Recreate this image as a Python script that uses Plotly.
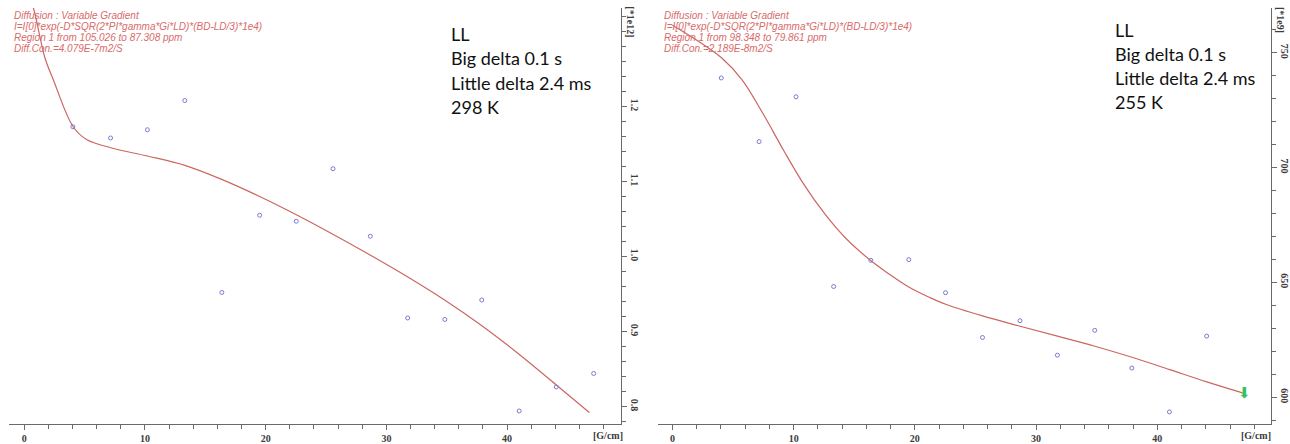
import plotly.graph_objects as go

# Gradient strengths (G/cm) used for both temperatures
gradient = [4.03, 7.15, 10.2, 13.3, 16.37, 19.5, 22.53, 25.58, 28.67, 31.76, 34.84, 37.9, 41.0, 44.07, 47.17]

# Integrated intensities, 298 K (x1e12) and 255 K (x1e9)
intensity_298 = [1.173, 1.158, 1.169, 1.208, 0.952, 1.055, 1.047, 1.117, 1.027, 0.918, 0.916, 0.942, 0.794, 0.826, 0.844]
intensity_255 = [739.0, 711.3, 730.8, 648.2, 659.6, 659.9, 645.5, 626.0, 633.3, 618.3, 629.1, 612.7, 593.6, 626.6, 601.1]

# Fitted decay curves
fit_g_298 = [0.5, 0.88, 1.71, 2.4, 4.05, 5.16, 7.17, 10.2, 13.3, 16.4, 19.5, 22.5, 25.3, 28.65, 31.74, 34.82, 37.88, 40.96, 44.05, 46.81]
fit_i_298 = [1.345, 1.324, 1.265, 1.236, 1.173, 1.156, 1.145, 1.134, 1.1215, 1.1025, 1.080, 1.056, 1.032, 1.002, 0.973, 0.942, 0.908, 0.870, 0.829, 0.792]
fit_g_255 = [0.0, 1.7, 4.05, 5.76, 7.48, 9.19, 10.91, 12.62, 14.34, 16.33, 17.77, 19.49, 21.2, 22.54, 25.59, 28.68, 31.77, 34.85, 37.91, 41.03, 44.08, 47.1]
fit_i_255 = [762.0, 756.5, 747.8, 738.1, 723.4, 707.3, 692.1, 679.5, 669.0, 659.6, 654.0, 648.0, 643.5, 640.5, 635.4, 630.9, 626.6, 622.2, 617.4, 612.0, 606.7, 601.8]

x_ticks = [0, 10, 20, 30, 40]
ticks_298 = [0.8, 0.9, 1.0, 1.1, 1.2]
ticks_255 = [600, 650, 700, 750]

header_298 = ["Diffusion : Variable Gradient",
              "I=I[0]*exp(-D*SQR(2*PI*gamma*Gi*LD)*(BD-LD/3)*1e4)",
              "Region 1 from 105.026 to 87.308 ppm",
              "Diff.Con.=4.079E-7m2/S"]
header_255 = ["Diffusion : Variable Gradient",
              "I=I[0]*exp(-D*SQR(2*PI*gamma*Gi*LD)*(BD-LD/3)*1e4)",
              "Region 1 from 98.348 to 79.861 ppm",
              "Diff.Con.=2.189E-8m2/S"]
notes_298 = ["LL", "Big delta 0.1 s", "Little delta 2.4 ms", "298 K"]
notes_255 = ["LL", "Big delta 0.1 s", "Little delta 2.4 ms", "255 K"]

W, H = 1290, 444
FIT_COLOR = "#cc6660"
PT_COLOR = "#7a7ad2"
AX_COLOR = "#6a6a6a"
TEXT_RED = "#d86a6a"
tick_font = dict(family="Liberation Serif", size=10, color="#3c3c3c", weight="bold")

fig = go.Figure()

fig.add_trace(go.Scatter(x=fit_g_298, y=fit_i_298, mode="lines", line=dict(color=FIT_COLOR, width=1.2, shape="spline"),
                         xaxis="x", yaxis="y", hoverinfo="skip"))
fig.add_trace(go.Scatter(x=gradient, y=intensity_298, mode="markers",
                         marker=dict(symbol="circle-open", size=4, color=PT_COLOR, line=dict(width=1)),
                         xaxis="x", yaxis="y"))

fig.add_trace(go.Scatter(x=fit_g_255, y=fit_i_255, mode="lines", line=dict(color=FIT_COLOR, width=1.2, shape="spline"),
                         xaxis="x2", yaxis="y2", hoverinfo="skip"))
fig.add_trace(go.Scatter(x=gradient[:-1], y=intensity_255[:-1], mode="markers",
                         marker=dict(symbol="circle-open", size=4, color=PT_COLOR, line=dict(width=1)),
                         xaxis="x2", yaxis="y2"))
# Cursor arrow on the selected (last) point
fig.add_trace(go.Scatter(x=gradient[-1:], y=intensity_255[-1:], mode="text", text=["\u2b07"],
                         textposition="middle center",
                         textfont=dict(family="DejaVu Sans", size=15, color="#2fc45e"),
                         xaxis="x2", yaxis="y2"))


def xaxis_cfg(px_left, px_right, px_zero, px_per_unit):
    return dict(
        domain=[px_left / W, px_right / W],
        range=[(px_left - px_zero) / px_per_unit, (px_right - px_zero) / px_per_unit],
        showline=True, linecolor=AX_COLOR, linewidth=1,
        ticks="outside", ticklen=5, tickcolor=AX_COLOR, tickwidth=1,
        tickvals=x_ticks, ticktext=[str(v) for v in x_ticks],
        minor=dict(dtick=2, tick0=0, ticks="outside", ticklen=4, tickcolor=AX_COLOR),
        showgrid=False, zeroline=False, tickfont=tick_font, fixedrange=True,
    )


def yaxis_cfg(anchor, lo, hi, tickvals, fmt, minor_dtick):
    return dict(
        domain=[18 / H, 436 / H], anchor=anchor, side="right",
        range=[lo, hi],
        showline=True, linecolor=AX_COLOR, linewidth=1,
        ticks="outside", ticklen=5, tickcolor=AX_COLOR,
        tickvals=tickvals, ticktext=[fmt.format(v) for v in tickvals], tickangle=90,
        minor=dict(dtick=minor_dtick, tick0=0, ticks="outside", ticklen=4, tickcolor=AX_COLOR),
        showgrid=False, zeroline=False, tickfont=tick_font, fixedrange=True,
    )


# 298 K panel: 0.8 sits at y=408.3 px, 753.3 px per unit; 255 K panel: 600 at 399 px, 2.307 px per unit
y_lo_298 = 0.8 - (426 - 408.3) / 753.3
y_hi_298 = 0.8 + (408.3 - 8) / 753.3
y_lo_255 = 600 - (426 - 399) / 2.307
y_hi_255 = 600 + (399 - 8) / 2.307

fig.update_layout(
    width=W, height=H, margin=dict(l=0, r=0, t=0, b=0),
    paper_bgcolor="white", plot_bgcolor="white", showlegend=False,
    xaxis=xaxis_cfg(9, 622, 24.3, 12.1) | dict(anchor="y"),
    yaxis=yaxis_cfg("x", y_lo_298, y_hi_298, ticks_298, "{:.1f}", 0.02),
    xaxis2=xaxis_cfg(660, 1274, 674, 12.15) | dict(anchor="y2"),
    yaxis2=yaxis_cfg("x2", y_lo_255, y_hi_255, ticks_255, "{:d}", 10),
)

annotations = []


def paper_text(px, py, text, font, xanchor="left", angle=0):
    annotations.append(dict(x=px / W, y=1 - py / H, xref="paper", yref="paper", text=text, showarrow=False,
                            xanchor=xanchor, yanchor="middle", font=font, textangle=angle))


red_font = dict(family="Liberation Sans", size=10, color=TEXT_RED, style="italic")
for i, line in enumerate(header_298):
    paper_text(12, 16 + i * 10.9, line, red_font)
for i, line in enumerate(header_255):
    paper_text(664, 16 + i * 10.9, line, red_font)

note_font = dict(family="Lato", size=18, color="#111111")
for i, line in enumerate(notes_298):
    paper_text(450, 34 + i * 24.5, line, note_font)
for i, line in enumerate(notes_255):
    paper_text(1116, 30 + i * 24.2, line, note_font)

unit_font = dict(family="Liberation Serif", size=10, color="#3c3c3c", weight="bold")
paper_text(609, 437, "[G/cm]", unit_font, xanchor="center")
paper_text(1259, 437, "[G/cm]", unit_font, xanchor="center")
paper_text(632, 22, "[*1e12]", unit_font, xanchor="center", angle=90)
paper_text(1283, 20, "[*1e9]", unit_font, xanchor="center", angle=90)

fig.update_layout(annotations=annotations)

fig.write_html("out.html")
